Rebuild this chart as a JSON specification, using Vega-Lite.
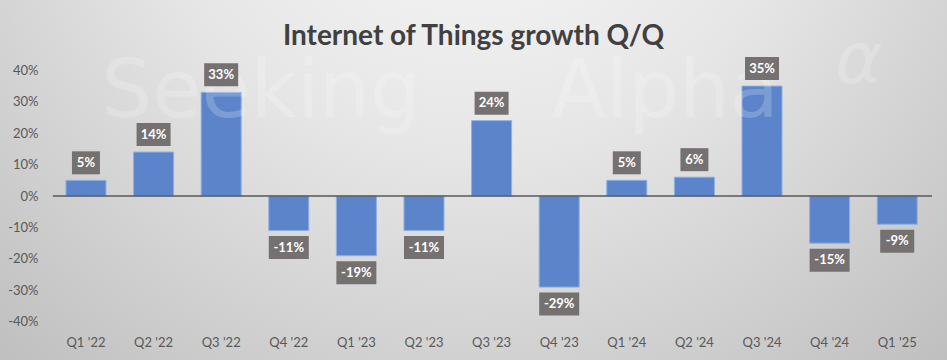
{
  "$schema": "https://vega.github.io/schema/vega-lite/v6.json",
  "width": 947,
  "height": 360,
  "autosize": {"type": "none"},
  "padding": 0,
  "background": "#d3d3d3",
  "view": {
    "stroke": null,
    "fill": {
      "gradient": "radial",
      "x1": 0.5, "y1": 0.12, "r1": 0,
      "x2": 0.5, "y2": 0.12, "r2": 0.78,
      "stops": [
        {"offset": 0, "color": "#fbfbfb"},
        {"offset": 0.45, "color": "#e6e6e6"},
        {"offset": 1, "color": "#bdbdbd"}
      ]
    }
  },
  "title": {
    "text": "Internet of Things growth Q/Q",
    "font": "Lato",
    "fontSize": 28,
    "fontWeight": "bold",
    "color": "#404040",
    "anchor": "middle",
    "frame": "group",
    "offset": -73,
    "baseline": "alphabetic"
  },
  "config": {
    "font": "Lato",
    "locale": {
      "number": {
        "decimal": ".",
        "thousands": ",",
        "grouping": [3],
        "currency": ["$", ""],
        "minus": "-"
      }
    }
  },
  "data": {
    "values": [
      {"q": "Q1 '22", "v": 0.05},
      {"q": "Q2 '22", "v": 0.14},
      {"q": "Q3 '22", "v": 0.33},
      {"q": "Q4 '22", "v": -0.11},
      {"q": "Q1 '23", "v": -0.19},
      {"q": "Q2 '23", "v": -0.11},
      {"q": "Q3 '23", "v": 0.24},
      {"q": "Q4 '23", "v": -0.29},
      {"q": "Q1 '24", "v": 0.05},
      {"q": "Q2 '24", "v": 0.06},
      {"q": "Q3 '24", "v": 0.35},
      {"q": "Q4 '24", "v": -0.15},
      {"q": "Q1 '25", "v": -0.09}
    ]
  },
  "layer": [
    {
      "mark": {"type": "bar", "color": "#5b84ca", "stroke": "#8fb0e3", "strokeWidth": 1},
      "encoding": {
        "x": {
          "field": "q", "type": "nominal", "sort": null,
          "scale": {"paddingInner": 0.408, "paddingOuter": 0.708, "align": 0.689},
          "axis": {
            "title": null, "orient": "bottom", "offset": -14,
            "domain": false, "ticks": false, "labelPadding": 0,
            "labelBaseline": "alphabetic", "labelAngle": 0,
            "labelFont": "Lato", "labelFontSize": 13, "labelColor": "#595959"
          }
        },
        "y": {
          "field": "v", "type": "quantitative",
          "scale": {"domain": [-0.522, 0.624], "nice": false, "zero": false},
          "axis": {
            "title": null, "orient": "left", "offset": -38,
            "domain": false, "ticks": false, "grid": false, "labelPadding": 0,
            "values": [-0.4, -0.3, -0.2, -0.1, 0, 0.1, 0.2, 0.3, 0.4],
            "format": ".0%",
            "labelFont": "Lato", "labelFontSize": 13, "labelColor": "#595959"
          }
        }
      }
    },
    {
      "data": {"values": [{"zero": 0}]},
      "mark": {"type": "rule", "color": "#595959", "strokeWidth": 1.5},
      "encoding": {
        "x": {"datum": "Q1 '22", "bandPosition": -0.325},
        "x2": {"datum": "Q1 '25", "bandPosition": 1.37},
        "y": {"field": "zero", "type": "quantitative"}
      }
    },
    {
      "data": {"values": [{"w": "Seeking"}]},
      "mark": {"type": "text", "color": "white", "opacity": 0.2, "font": "DejaVu Sans", "fontSize": 80, "align": "center", "baseline": "alphabetic"},
      "encoding": {
        "x": {"datum": "Q3 '22", "bandPosition": 1.5},
        "y": {"datum": 0.25},
        "text": {"field": "w"}
      }
    },
    {
      "data": {"values": [{"w": "Alpha"}]},
      "mark": {"type": "text", "color": "white", "opacity": 0.2, "font": "DejaVu Sans", "fontSize": 80, "align": "center", "baseline": "alphabetic"},
      "encoding": {
        "x": {"datum": "Q2 '24", "bandPosition": -0.235},
        "y": {"datum": 0.25},
        "text": {"field": "w"}
      }
    },
    {
      "data": {"values": [{"w": "α"}]},
      "mark": {"type": "text", "color": "white", "opacity": 0.2, "font": "DejaVu Sans", "fontSize": 72, "fontStyle": "italic", "align": "left", "baseline": "alphabetic"},
      "encoding": {
        "x": {"datum": "Q4 '24", "bandPosition": 0.64},
        "y": {"datum": 0.36},
        "text": {"field": "w"}
      }
    },
    {
      "transform": [
        {"filter": "datum.v > 0"},
        {"calculate": "length(format(datum.v, '.0%'))", "as": "len"}
      ],
      "mark": {"type": "bar", "color": "#767171", "yOffset": -29, "y2Offset": -6},
      "encoding": {
        "x": {"field": "q", "type": "nominal", "sort": null},
        "y": {"field": "v", "type": "quantitative"},
        "y2": {"field": "v"},
        "size": {"field": "len", "type": "quantitative", "scale": {"type": "linear", "domain": [2, 4], "range": [28, 40]}, "legend": null}
      }
    },
    {
      "transform": [{"filter": "datum.v > 0"}],
      "mark": {"type": "text", "color": "white", "font": "Lato", "fontSize": 13, "fontWeight": "bold", "baseline": "middle", "yOffset": -17.5},
      "encoding": {
        "x": {"field": "q", "type": "nominal", "sort": null},
        "y": {"field": "v", "type": "quantitative"},
        "text": {"field": "v", "type": "quantitative", "format": ".0%"}
      }
    },
    {
      "transform": [
        {"filter": "datum.v < 0"},
        {"calculate": "length(format(datum.v, '.0%'))", "as": "len"}
      ],
      "mark": {"type": "bar", "color": "#767171", "yOffset": 5.5, "y2Offset": 28.5},
      "encoding": {
        "x": {"field": "q", "type": "nominal", "sort": null},
        "y": {"field": "v", "type": "quantitative"},
        "y2": {"field": "v"},
        "size": {"field": "len", "type": "quantitative", "scale": {"type": "linear", "domain": [2, 4], "range": [28, 40]}, "legend": null}
      }
    },
    {
      "transform": [{"filter": "datum.v < 0"}],
      "mark": {"type": "text", "color": "white", "font": "Lato", "fontSize": 13, "fontWeight": "bold", "baseline": "middle", "yOffset": 17},
      "encoding": {
        "x": {"field": "q", "type": "nominal", "sort": null},
        "y": {"field": "v", "type": "quantitative"},
        "text": {"field": "v", "type": "quantitative", "format": ".0%"}
      }
    }
  ]
}
